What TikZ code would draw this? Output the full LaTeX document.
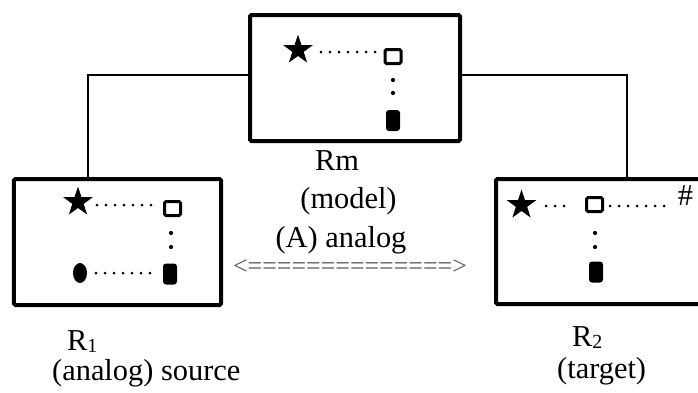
\documentclass[tikz,border=0pt]{standalone}
\usepackage{fontspec}
\setmainfont{Liberation Serif}
\usetikzlibrary{shapes.geometric}

\begin{document}
\begin{tikzpicture}[x=1bp,y=-1bp,
  frame/.style={draw, line width=4bp, rounded corners=1.5bp, inner sep=0},
  link/.style={draw, line width=1.2bp},
  dotrow/.style={line width=3bp, line cap=round, dash pattern=on 0bp off 9bp},
  starmark/.style={star, star points=5, star point ratio=2.6, fill, draw=none, minimum size=31bp, inner sep=0},
  openbox/.style={draw, line width=3bp, rounded corners=1.5bp, minimum width=16bp, minimum height=14bp, inner sep=0},
  solidbox/.style={fill, rounded corners=3bp, minimum width=14bp, minimum height=21bp, inner sep=0},
  solidoval/.style={ellipse, fill, minimum width=14bp, minimum height=20bp, inner sep=0},
  pip/.style={circle, fill, minimum size=4.2bp, inner sep=0},
  lbl/.style={font=\fontsize{30.5}{34}\selectfont, inner sep=0, anchor=base},
  lblw/.style={font=\fontsize{30.5}{34}\selectfont, inner sep=0, anchor=base west},
]
\useasboundingbox (0,0) rectangle (698,392);

% the three frames
\node[frame, minimum width=210bp, minimum height=126bp] (top) at (355,78) {};
\node[frame, minimum width=207bp, minimum height=126bp] (left) at (117.5,242) {};
\node[frame, minimum width=210bp, minimum height=125bp] (right) at (601,241.5) {};

% links from the model frame down to the two side frames
\coordinate (lcol) at (88,0);
\coordinate (rcol) at (627,0);
\draw[link] ([yshift=3bp]top.west) -| (left.north -| lcol);
\draw[link] ([yshift=3bp]top.east) -| (right.north -| rcol);

% contents of the model frame
\node[starmark] (ts) at (298,50) {};
\node[openbox] (tb) at (393,56.5) {};
\node[pip] (tp1) at (393,80) {};
\node[pip] (tp2) at (393,93) {};
\node[solidbox] (tf) at (393,120.5) {};
\draw[dotrow] (321,52) -- (378,52);

% contents of the source frame
\node[starmark] (ls) at (78,202) {};
\node[openbox] (lb) at (172.5,208.5) {};
\node[pip] (lp1) at (171,233) {};
\node[pip] (lp2) at (171,247) {};
\node[solidoval] (lo) at (80,273) {};
\node[solidbox] (lf) at (170,274) {};
\draw[dotrow] (97,205) -- (155,205);
\draw[dotrow] (96,273) -- (157,273);

% contents of the target frame
\node[starmark] (rs) at (521.5,205) {};
\node[openbox] (rb) at (594.5,204.5) {};
\node[pip] (rp1) at (595,233) {};
\node[pip] (rp2) at (595,247) {};
\node[solidbox] (rf) at (596,272) {};
\draw[dotrow] (546,206) -- (568,206);
\draw[dotrow] (610,206) -- (673,206);
\node[lbl] (hash) at (685.5,205) {\#};

% labels
\node[lbl] (rm) at (337,170) {Rm};
\node[lbl] (model) at (348.5,208) {(model)};
\node[lbl] (analog) at (341,247) {(A) analog};
\node[lbl, font=\fontsize{26}{30}\selectfont, text=black!65] (arrow) at (350,274) {<==============>};
\node[lblw] (r1) at (67,350) {R\raisebox{-0.2ex}{\fontsize{20}{22}\selectfont 1}};
\node[lblw] (src) at (52,380) {(analog) source};
\node[lblw] (r2) at (572,346) {R\raisebox{-0.2ex}{\fontsize{20}{22}\selectfont 2}};
\node[lblw] (tgt) at (557,378) {(target)};
\end{tikzpicture}
\end{document}
